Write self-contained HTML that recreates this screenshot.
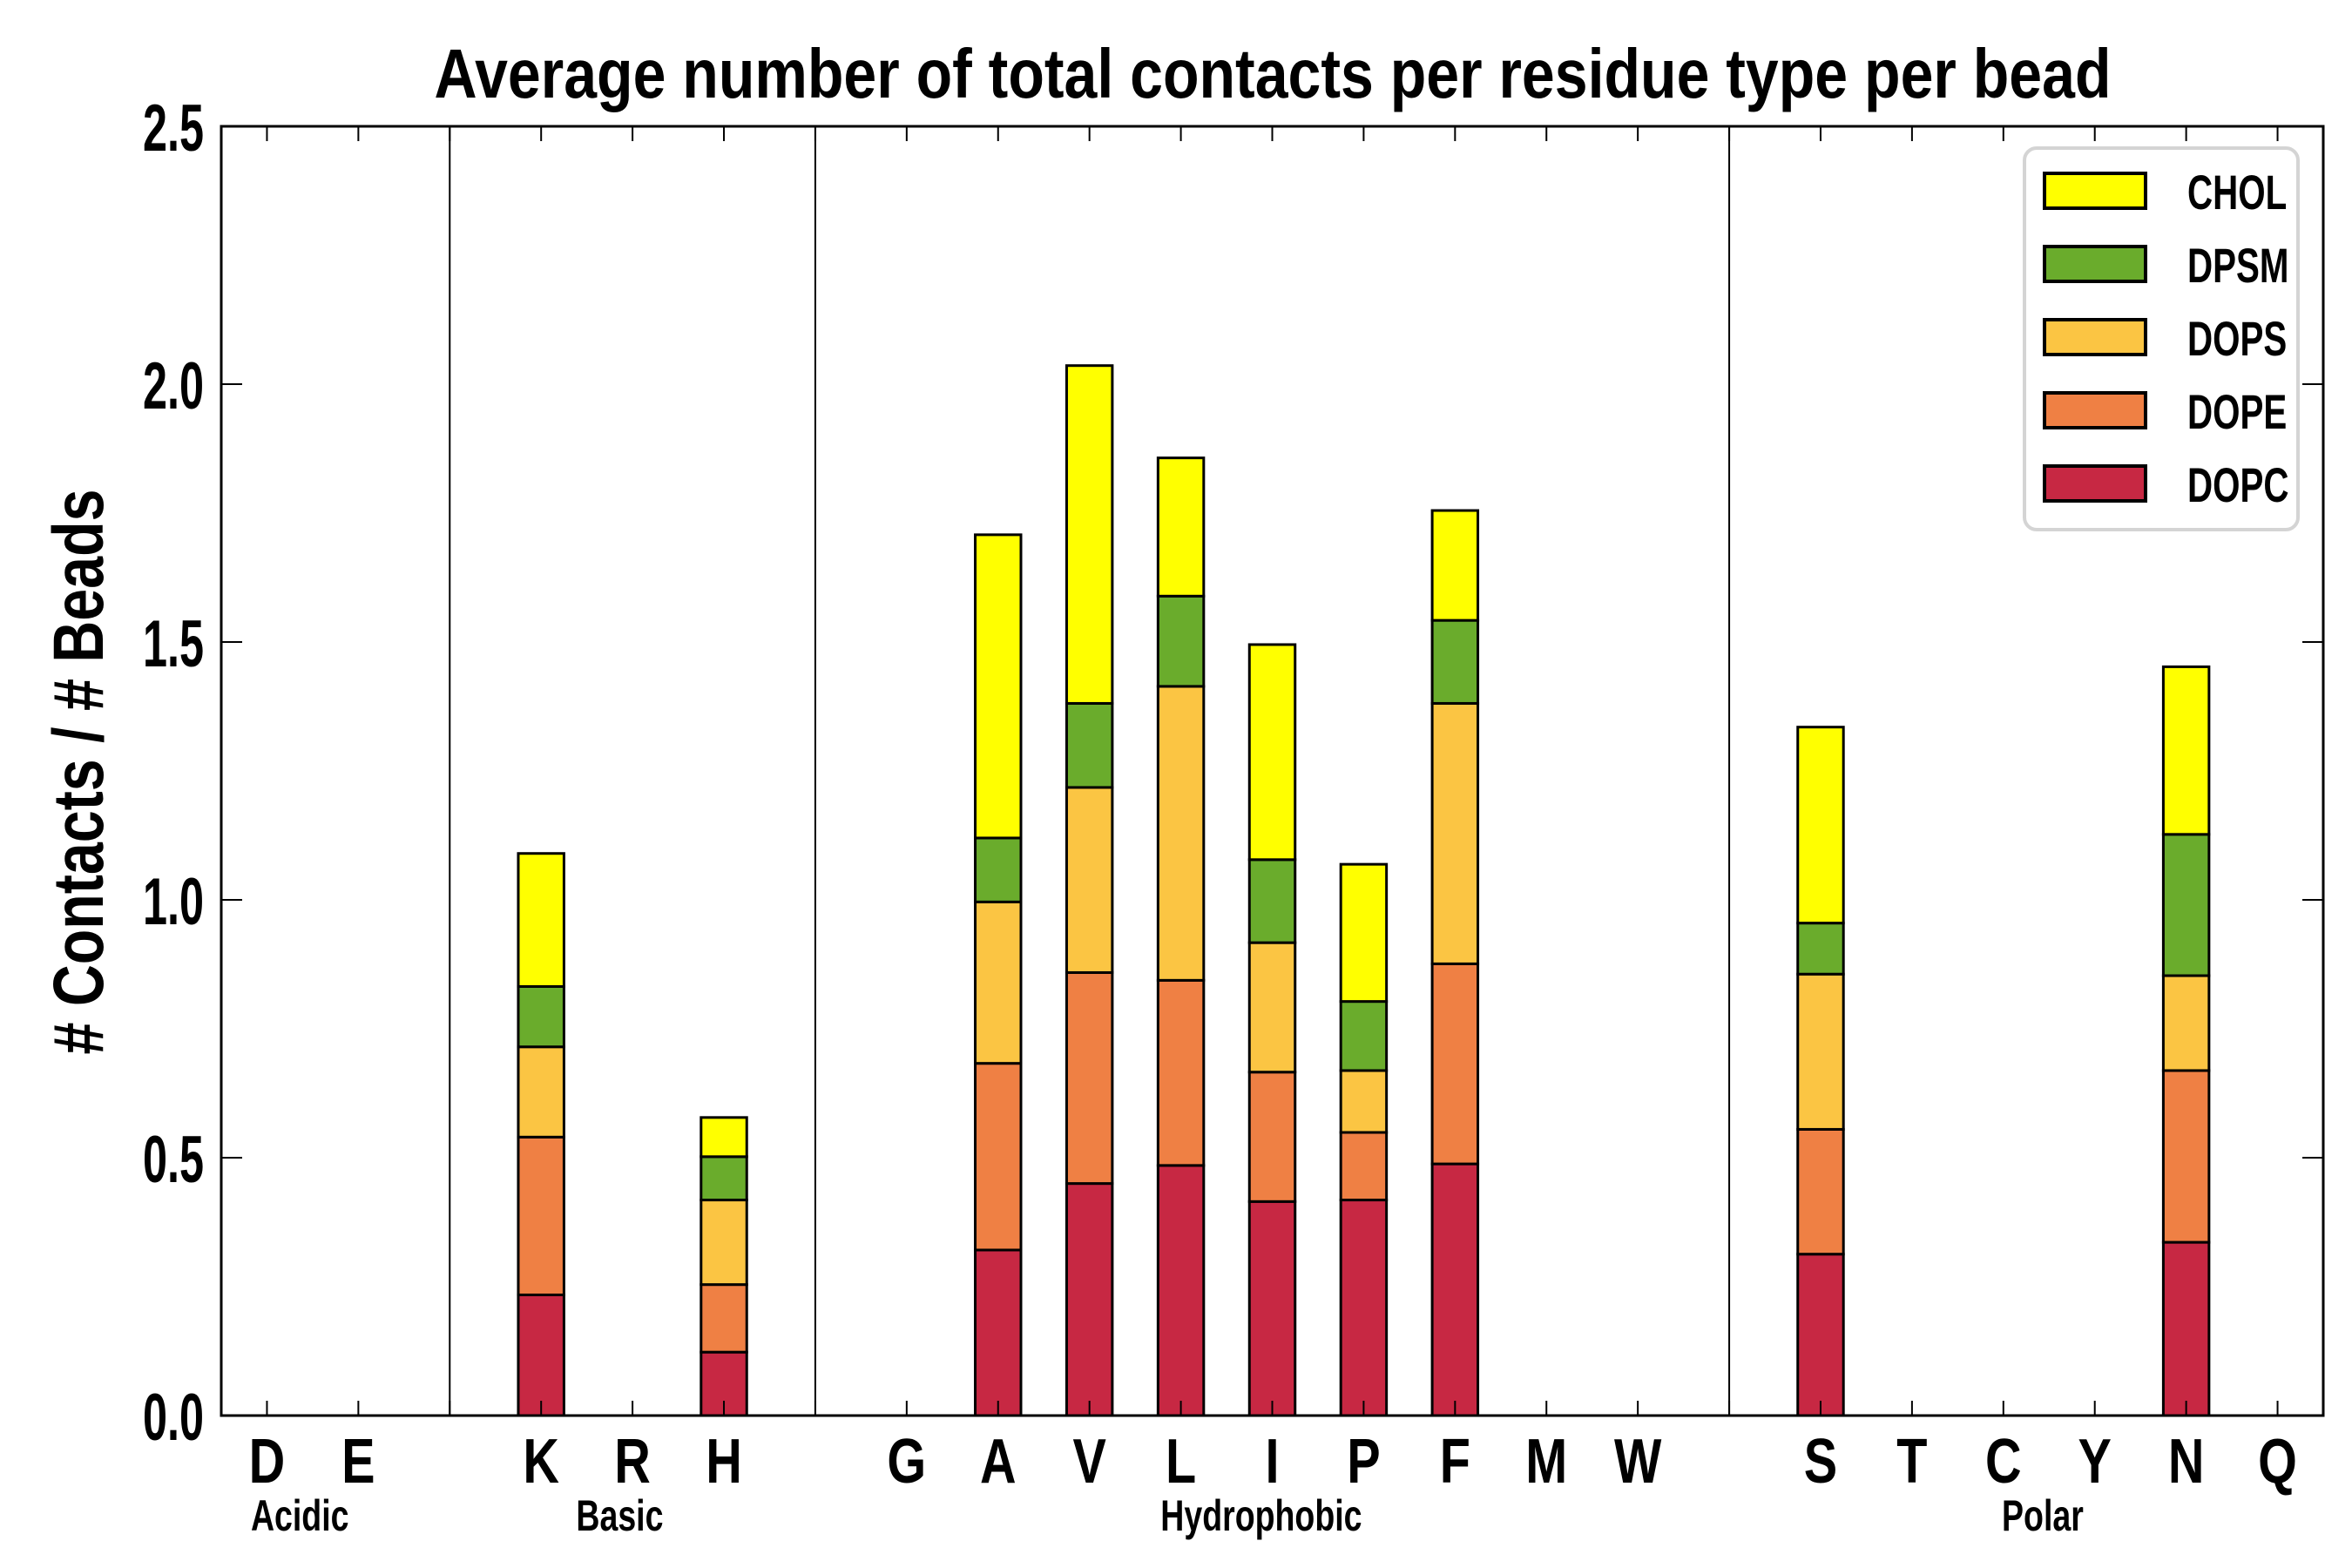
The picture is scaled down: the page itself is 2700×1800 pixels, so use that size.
<!DOCTYPE html>
<html><head><meta charset="utf-8">
<style>
html,body{margin:0;padding:0;background:#fff;}
svg{display:block;}
text{font-family:"Liberation Sans",sans-serif;font-weight:bold;fill:#000;}
</style></head>
<body>
<svg id="chart" width="2700" height="1800" viewBox="0 0 2700 1800" xmlns="http://www.w3.org/2000/svg">
<text x="1461" y="112" font-size="80" text-anchor="middle" textLength="1925" lengthAdjust="spacingAndGlyphs">Average number of total contacts per residue type per bead</text>
<text transform="translate(118,886) rotate(-90)" font-size="82" text-anchor="middle" textLength="649" lengthAdjust="spacingAndGlyphs"># Contacts / # Beads</text>
<g id="plot"></g>
</svg>
<script>
const categories = ["D","E","","K","R","H","","G","A","V","L","I","P","F","M","W","","S","T","C","Y","N","Q"];
const separators = [2,6,16];
const seriesNames = ["DOPC","DOPE","DOPS","DPSM","CHOL"];
const seriesColors = ["#c72843","#ef8044","#fbc543","#6aac2c","#ffff00"];
const DOPC = [0,0,0,0.234,0,0.123,0,0,0.321,0.45,0.485,0.415,0.418,0.488,0,0,0,0.313,0,0,0,0.336,0];
const DOPE = [0,0,0,0.306,0,0.131,0,0,0.362,0.409,0.359,0.251,0.131,0.388,0,0,0,0.242,0,0,0,0.333,0];
const DOPS = [0,0,0,0.175,0,0.164,0,0,0.313,0.359,0.570,0.251,0.120,0.505,0,0,0,0.301,0,0,0,0.184,0];
const DPSM = [0,0,0,0.117,0,0.084,0,0,0.124,0.163,0.175,0.161,0.134,0.161,0,0,0,0.099,0,0,0,0.274,0];
const CHOL = [0,0,0,0.258,0,0.076,0,0,0.588,0.655,0.268,0.417,0.266,0.213,0,0,0,0.380,0,0,0,0.325,0];
const yTicks = [0,0.5,1,1.5,2,2.5];
const yTickLabels = ["0.0","0.5","1.0","1.5","2.0","2.5"];
const groups = ["Acidic","Basic","Hydrophobic","Polar"];
const groupCenters = [0.36,3.86,10.88,19.43];

const L=254,R=2667,T=145,B=1625,yMax=2.5;
const slot=(R-L)/categories.length;
const xs=i=>L+(i+0.5)*slot;
const ys=v=>B-(v/yMax)*(B-T);
const NS="http://www.w3.org/2000/svg";
const plot=document.getElementById('plot');
function mk(tag,attrs,parent){const e=document.createElementNS(NS,tag);for(const k in attrs)e.setAttribute(k,attrs[k]);(parent||plot).appendChild(e);return e;}

separators.forEach(i=>{
  const l=mk('line',{x1:xs(i),x2:xs(i),y1:T,y2:B,stroke:'#000','stroke-width':2});
  
  
});
const series=[DOPC,DOPE,DOPS,DPSM,CHOL];
const bw=slot*0.5;
categories.forEach((c,i)=>{
  let base=0;
  series.forEach((s,k)=>{
    const v=s[i];
    const r=mk('rect',{x:xs(i)-bw/2,y:ys(base+v),width:bw,height:ys(base)-ys(base+v),fill:seriesColors[k],stroke:'#000','stroke-width':3});
    
    
    base+=v;
  });
});
const fr=mk('rect',{x:L,y:T,width:R-L,height:B-T,fill:'none',stroke:'#000','stroke-width':3});


yTicks.forEach((v,j)=>{
  const y=ys(v);
  const t1=mk('line',{x1:L,x2:L+24,y1:y,y2:y,stroke:'#000','stroke-width':2});
  
  
  const t2=mk('line',{x1:R-24,x2:R,y1:y,y2:y,stroke:'#000','stroke-width':2});
  
  
  const tx=mk('text',{x:234,y:y+28,'font-size':76,'text-anchor':'end',textLength:70,lengthAdjust:'spacingAndGlyphs'});
  tx.textContent=yTickLabels[j];
  
  
});
categories.forEach((c,i)=>{
  const x=xs(i);
  const a=mk('line',{x1:x,x2:x,y1:B,y2:B-17,stroke:'#000','stroke-width':2});
  
  
  const b=mk('line',{x1:x,x2:x,y1:T,y2:T+17,stroke:'#000','stroke-width':2});
  
  
  if(c){
    const t=mk('text',{x:x,y:1702,'font-size':72,'text-anchor':'middle',transform:`translate(${x},0) scale(0.8,1) translate(${-x},0)`});
    t.textContent=c;
    
    
  }
});
groups.forEach((g,j)=>{
  const x=xs(groupCenters[j]);
  const t=mk('text',{x:x,y:1757,'font-size':50,'text-anchor':'middle',transform:`translate(${x},0) scale(0.75,1) translate(${-x},0)`});
  t.textContent=g;
  
  
});
const lg=mk('g',{});


const lb=mk('rect',{x:2324,y:170,width:314,height:438,rx:14,fill:'#fff',stroke:'#d4d4d4','stroke-width':4},lg);


const order=[4,3,2,1,0];
order.forEach((k,j)=>{
  const cy=220+j*84;
  const sw=mk('rect',{x:2347,y:cy-21,width:116,height:40,fill:seriesColors[k],stroke:'#000','stroke-width':4},lg);
  
  
  const t=mk('text',{x:2511,y:cy+20,'font-size':56,transform:`translate(2511,0) scale(0.72,1) translate(-2511,0)`},lg);
  t.textContent=seriesNames[k];
  
  
});
</script>
</body></html>
